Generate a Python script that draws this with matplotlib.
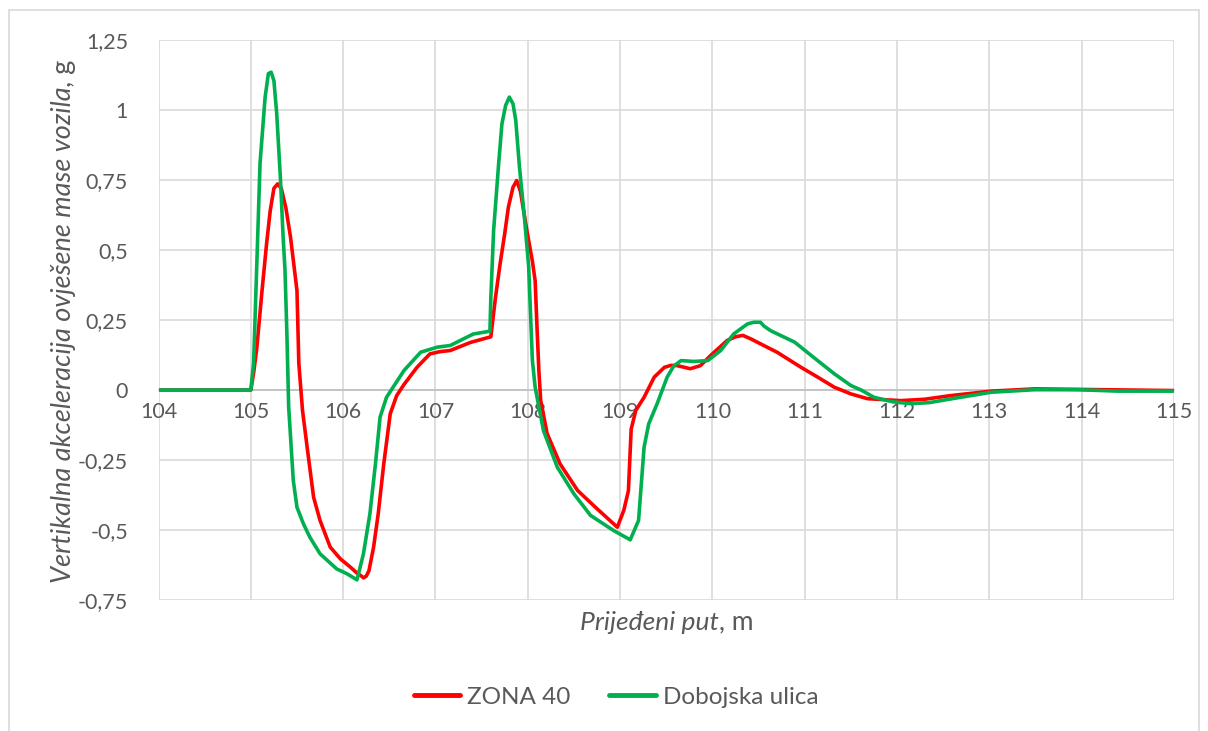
import matplotlib
matplotlib.use("Agg")
import matplotlib.pyplot as plt
from matplotlib.patches import Rectangle

# Travelled distance (m) and vertical acceleration of the sprung mass (g)
zona_x = [104.0, 105.0, 105.03, 105.065, 105.12, 105.17, 105.21, 105.25, 105.29, 105.33,
          105.38, 105.43, 105.50, 105.52, 105.56, 105.61, 105.68, 105.75, 105.86, 105.97,
          106.08, 106.15, 106.20, 106.22, 106.25, 106.28, 106.33, 106.38, 106.44, 106.51,
          106.58, 106.66, 106.80, 106.94, 107.05, 107.16, 107.38, 107.60, 107.65, 107.70,
          107.75, 107.79, 107.84, 107.88, 107.92, 107.99, 108.05, 108.08, 108.10, 108.12,
          108.14, 108.21, 108.35, 108.54, 108.75, 108.97, 109.04, 109.09, 109.12, 109.17,
          109.26, 109.37, 109.48, 109.55, 109.62, 109.76, 109.87, 109.98, 110.16, 110.25,
          110.33, 110.42, 110.52, 110.70, 110.96, 111.14, 111.32, 111.50, 111.68, 112.04,
          112.30, 112.58, 113.02, 113.49, 114.0, 114.5, 115.0]
zona_y = [0.0, 0.0, 0.06, 0.15, 0.35, 0.52, 0.64, 0.72, 0.736, 0.72,
          0.65, 0.546, 0.355, 0.095, -0.073, -0.204, -0.383, -0.466, -0.561, -0.603,
          -0.633, -0.654, -0.665, -0.671, -0.665, -0.645, -0.561, -0.442, -0.264, -0.085,
          -0.02, 0.02, 0.081, 0.129, 0.137, 0.141, 0.17, 0.19, 0.33, 0.45,
          0.558, 0.653, 0.724, 0.748, 0.71, 0.57, 0.46, 0.39, 0.224, 0.07,
          -0.038, -0.156, -0.264, -0.359, -0.424, -0.49, -0.43, -0.36, -0.14, -0.073,
          -0.026, 0.046, 0.081, 0.088, 0.087, 0.076, 0.087, 0.123, 0.177, 0.19,
          0.195, 0.182, 0.165, 0.135, 0.081, 0.046, 0.01, -0.014, -0.031, -0.038,
          -0.033, -0.02, -0.004, 0.004, 0.002, 0.0, -0.002]

dobojska_x = [104.0, 105.0, 105.03, 105.065, 105.10, 105.155, 105.19, 105.22, 105.25, 105.28,
              105.32, 105.35, 105.37, 105.39, 105.41, 105.46, 105.50, 105.57, 105.64, 105.75,
              105.93, 106.04, 106.15, 106.22, 106.29, 106.35, 106.40, 106.47, 106.66, 106.84,
              107.02, 107.16, 107.41, 107.59, 107.60, 107.63, 107.685, 107.72, 107.76, 107.80,
              107.84, 107.87, 107.91, 107.96, 108.01, 108.03, 108.05, 108.08, 108.17, 108.32,
              108.50, 108.68, 108.93, 109.11, 109.20, 109.26, 109.31, 109.40, 109.51, 109.58,
              109.66, 109.80, 109.95, 110.09, 110.23, 110.38, 110.45, 110.52, 110.56, 110.63,
              110.89, 111.14, 111.32, 111.50, 111.61, 111.75, 111.95, 112.15, 112.35, 112.58,
              113.02, 113.49, 113.96, 114.39, 115.0]
dobojska_y = [0.0, 0.0, 0.095, 0.45, 0.81, 1.046, 1.13, 1.135, 1.105, 0.99,
              0.76, 0.546, 0.43, 0.21, -0.06, -0.323, -0.419, -0.478, -0.526, -0.585,
              -0.639, -0.656, -0.678, -0.585, -0.442, -0.264, -0.097, -0.026, 0.07, 0.135,
              0.153, 0.159, 0.20, 0.21, 0.33, 0.57, 0.81, 0.95, 1.016, 1.046,
              1.022, 0.963, 0.796, 0.63, 0.44, 0.27, 0.105, 0.01, -0.145, -0.276,
              -0.371, -0.448, -0.502, -0.535, -0.466, -0.204, -0.121, -0.05, 0.046, 0.085,
              0.105, 0.102, 0.105, 0.141, 0.20, 0.236, 0.242, 0.242, 0.228, 0.212,
              0.171, 0.105, 0.058, 0.016, 0.0, -0.026, -0.042, -0.049, -0.045, -0.032,
              -0.008, 0.001, 0.001, -0.004, -0.004]

x_ticks = list(range(104, 116))
y_ticks = [-0.75, -0.5, -0.25, 0, 0.25, 0.5, 0.75, 1, 1.25]
y_tick_labels = ["-0,75", "-0,5", "-0,25", "0", "0,25", "0,5", "0,75", "1", "1,25"]

series_names = ["ZONA 40", "Dobojska ulica"]
series_colors = ["#FF0000", "#00B050"]

FONT = ["Lato", "DejaVu Sans"]
TEXT_COLOR = "#595959"
GRID_COLOR = "#D9D9D9"

plt.rcParams["font.family"] = FONT

fig = plt.figure(figsize=(12.08, 7.31), dpi=100)
ax = fig.add_axes([158.5 / 1208, 1 - 600 / 731, (1174 - 158.5) / 1208, (600 - 40) / 731])

# chart-area frame
fig.patches.append(Rectangle((9 / 1208, -0.05), (1199 - 9) / 1208, 1.05 - 10 / 731,
                             transform=fig.transFigure, fill=False,
                             edgecolor=GRID_COLOR, linewidth=1.2, zorder=0))

ax.plot(zona_x, zona_y, color=series_colors[0], lw=2.6, label=series_names[0],
        solid_joinstyle="round", solid_capstyle="round", zorder=3)
ax.plot(dobojska_x, dobojska_y, color=series_colors[1], lw=2.6, label=series_names[1],
        solid_joinstyle="round", solid_capstyle="round", zorder=4)

ax.set_xlim(104, 115)
ax.set_ylim(-0.75, 1.25)
ax.set_xticks(x_ticks)
ax.set_yticks(y_ticks)
ax.set_yticklabels(y_tick_labels)

ax.grid(True, color=GRID_COLOR, linewidth=1.2, zorder=0)
ax.set_axisbelow(True)
for side in ["top", "right", "left"]:
    ax.spines[side].set_visible(False)
ax.spines["bottom"].set_position(("data", 0))
ax.spines["bottom"].set_color("#BFBFBF")
ax.spines["bottom"].set_linewidth(1.2)
ax.spines["bottom"].set_zorder(2)

ax.tick_params(axis="both", length=0, labelsize=15.5, labelcolor=TEXT_COLOR)
ax.tick_params(axis="x", pad=9)
ax.tick_params(axis="y", pad=22)

# axis titles: italic words followed by upright unit
xt = fig.text(0.5 * (158.5 + 1174) / 1208 - 0.014, 1 - 622 / 731, "Prijeđeni put",
              fontsize=19, style="italic", color=TEXT_COLOR, ha="center", va="center")
ax.annotate(", m", xy=(1, 0.5), xycoords=xt, va="center", ha="left",
            fontsize=19, color=TEXT_COLOR)

yt = fig.text(64 / 1208, 1 - 335 / 731, "Vertikalna akceleracija ovješene mase vozila",
              fontsize=19.5, style="italic", color=TEXT_COLOR, ha="center", va="center",
              rotation=90)
ax.annotate(", g", xy=(0.5, 1), xycoords=yt, va="bottom", ha="center",
            fontsize=19.5, color=TEXT_COLOR, rotation=90)

leg = fig.legend(loc="center", bbox_to_anchor=(616 / 1208, 1 - 697 / 731), ncol=2,
                 frameon=False, fontsize=17.5, handlelength=1.9, handletextpad=0.3,
                 columnspacing=1.6)
for t in leg.get_texts():
    t.set_color(TEXT_COLOR)
for line in leg.get_lines():
    line.set_linewidth(3.5)

fig.savefig("out.png", dpi=100)
